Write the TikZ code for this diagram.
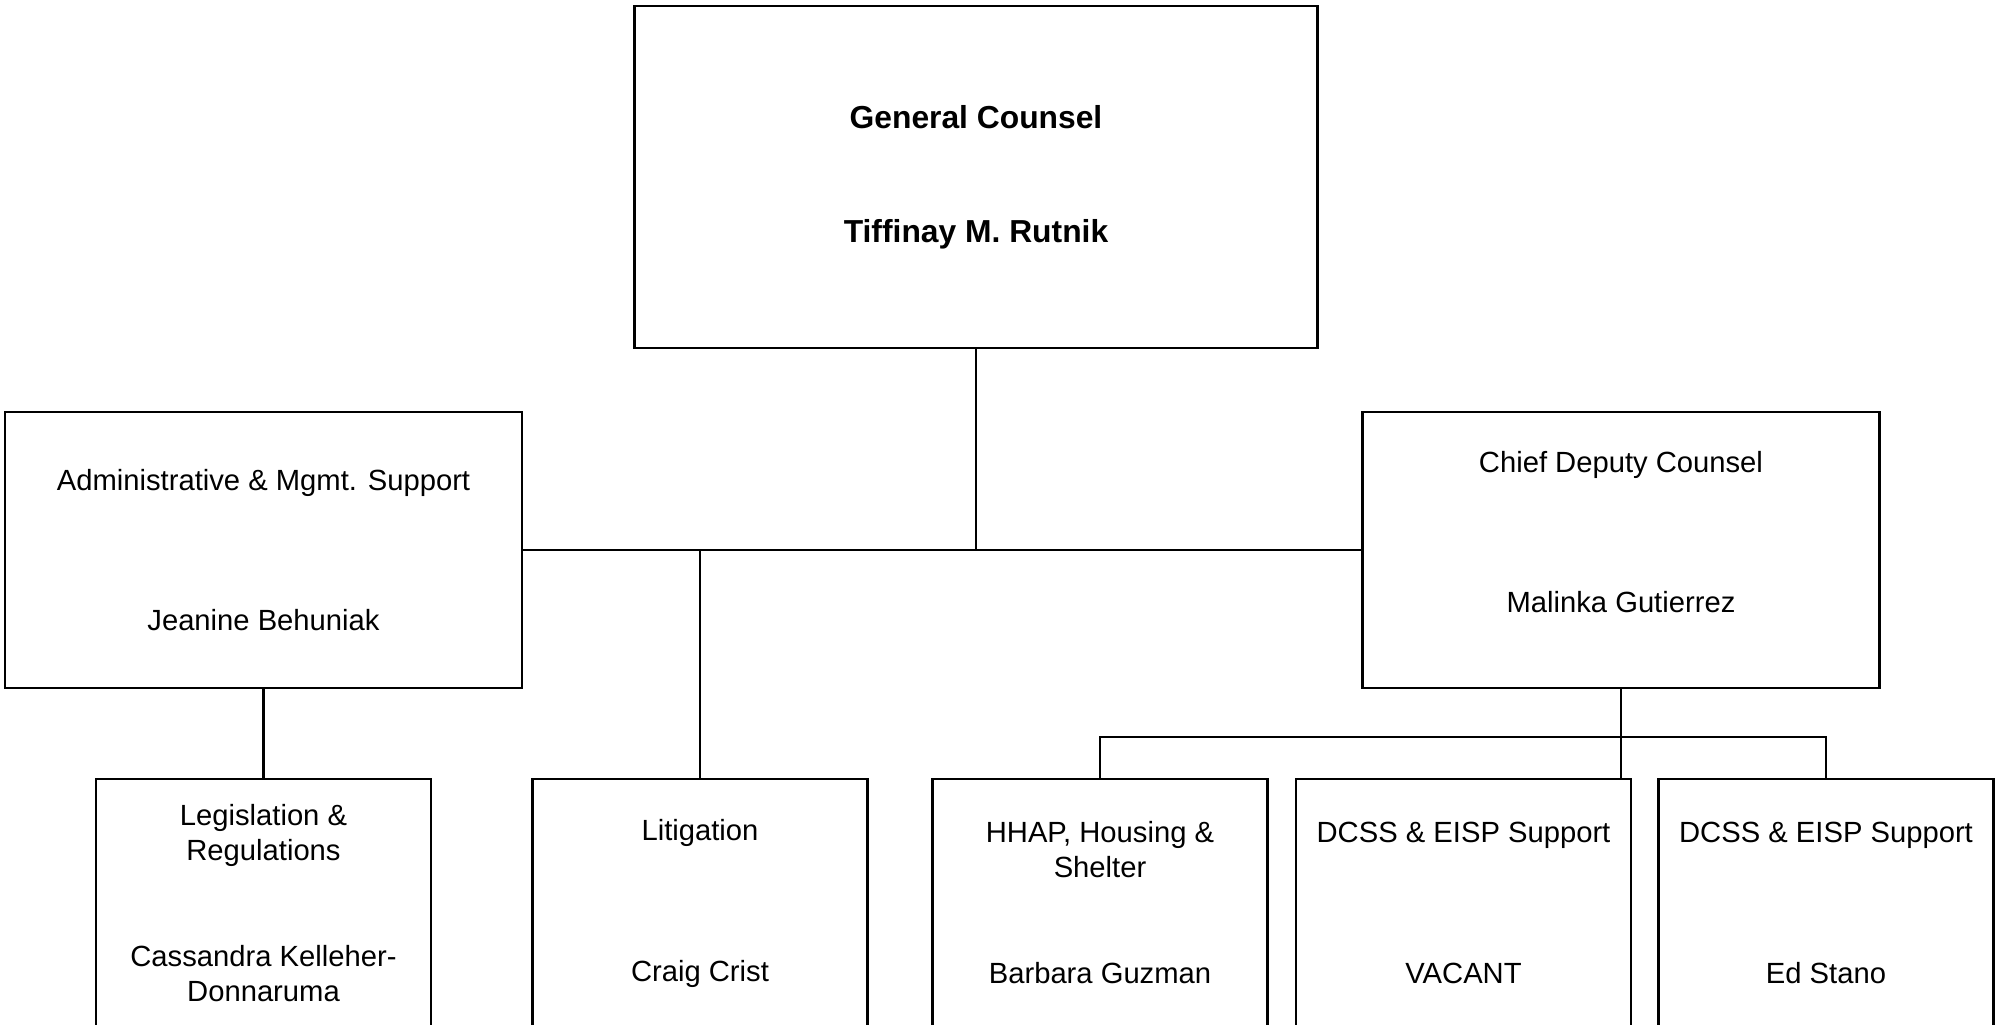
\documentclass[tikz,border=0pt]{standalone}
\usepackage{fontspec}
\setmainfont{Liberation Sans}
\usepackage{tikz}
\usetikzlibrary{positioning}

\begin{document}
\begin{tikzpicture}[
		x=1pt, y=-1pt,
		line width=2.3pt,
		orgbox/.style = {
			shape=rectangle,
			draw,
			align=center,
			inner sep=0pt,
			font=\fontsize{29.2}{35}\selectfont
		},
		headbox/.style = {
			orgbox,
			minimum width=683pt,
			minimum height=342pt,
			font=\fontsize{31.8}{38}\selectfont\bfseries
		},
		deputybox/.style = {
			orgbox,
			minimum width=517pt,
			minimum height=276pt
		},
		unitbox/.style = {
			orgbox,
			minimum width=335pt,
			minimum height=248pt
		}
		]
		\useasboundingbox (0,0) rectangle (1998,1025);
		\clip (0,0) rectangle (1998,1025);

		\node[headbox] (counsel) at (976,177) {General Counsel\\[76pt]Tiffinay M. Rutnik};

		\node[deputybox] (admin) at (263.5,550) {Administrative \& Mgmt. Support\\[105pt]Jeanine Behuniak};
		\node[deputybox, text depth=36pt] (chief) at (1621,550) {Chief Deputy Counsel\\[105pt]Malinka Gutierrez};

		\node[unitbox] (legis) at (263.5,903) {Legislation \&\\Regulations\\[71pt]Cassandra Kelleher-\\Donnaruma};
		\node[unitbox] (litig) at (700,903) {Litigation\\[106pt]Craig Crist};
		\node[unitbox] (hhap) at (1100,903) {HHAP, Housing \&\\Shelter\\[71pt]Barbara Guzman};
		\node[unitbox] (vacant) at (1463.5,903) {DCSS \& EISP Support\\[106pt]VACANT};
		\node[unitbox] (stano) at (1826,903) {DCSS \& EISP Support\\[106pt]Ed Stano};

		% reporting lines
		\draw (counsel.south) -- (counsel.south |- admin.east);
		\draw (admin.east) -- (chief.west);
		\draw (litig.north |- admin.east) -- (litig.north);
		\draw (admin.south) -- (legis.north);
		\draw (chief.south) -- (chief.south |- vacant.north);
		\draw (hhap.north) -- ++(0,-41) -| (stano.north);
	\end{tikzpicture}
\end{document}
